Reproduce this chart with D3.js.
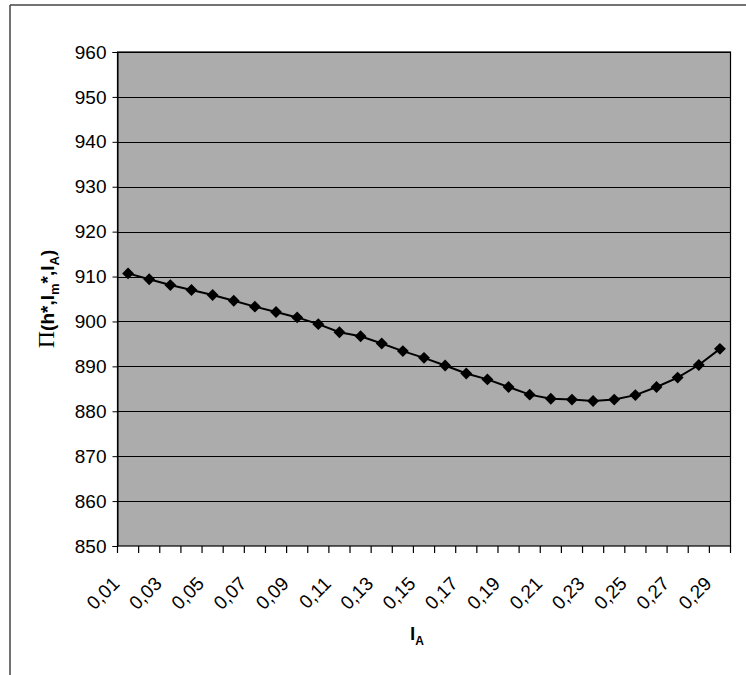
<!DOCTYPE html>
<html>
<head>
<meta charset="utf-8">
<script src="https://cdn.jsdelivr.net/npm/d3@7/dist/d3.min.js"></script>
<style>
  html, body { margin: 0; padding: 0; background: #fff; }
  svg { display: block; }
  text { font-family: "Liberation Sans", Arial, sans-serif; fill: #000; }
</style>
</head>
<body>
<svg id="chart" width="746" height="675"></svg>
<script>
// ---- data ----
const categories = ["0,01","0,02","0,03","0,04","0,05","0,06","0,07","0,08","0,09","0,10",
                    "0,11","0,12","0,13","0,14","0,15","0,16","0,17","0,18","0,19","0,20",
                    "0,21","0,22","0,23","0,24","0,25","0,26","0,27","0,28","0,29"];
const values = [910.7, 909.4, 908.1, 907.0, 905.9, 904.6, 903.3, 902.1, 900.9, 899.4,
                897.6, 896.7, 895.1, 893.4, 891.9, 890.2, 888.4, 887.1, 885.4, 883.7,
                882.8, 882.6, 882.3, 882.6, 883.6, 885.4, 887.5, 890.3, 893.9];
const yTicks = [850, 860, 870, 880, 890, 900, 910, 920, 930, 940, 950, 960];
const xTickLabels = ["0,01","0,03","0,05","0,07","0,09","0,11","0,13","0,15","0,17","0,19",
                     "0,21","0,23","0,25","0,27","0,29"];

// ---- layout ----
const svg = d3.select("#chart");
const plot = { left: 117.5, top: 52, right: 730.5, bottom: 546 };

const x = d3.scaleBand().domain(categories).range([plot.left, plot.right]).padding(0);
const y = d3.scaleLinear().domain([850, 960]).range([plot.bottom, plot.top]);

// outer frame (scanned page border)
svg.append("line").attr("x1", 10).attr("y1", 5).attr("x2", 746).attr("y2", 5)
  .attr("stroke", "#444").attr("stroke-width", 1.5);
svg.append("line").attr("x1", 10).attr("y1", 5).attr("x2", 10).attr("y2", 675)
  .attr("stroke", "#444").attr("stroke-width", 1.5);

// plot area
svg.append("rect")
  .attr("x", plot.left).attr("y", plot.top)
  .attr("width", plot.right - plot.left).attr("height", plot.bottom - plot.top)
  .attr("fill", "#acacac");

// gridlines
svg.append("g").selectAll("line").data(yTicks.slice(1)).join("line")
  .attr("x1", plot.left).attr("x2", plot.right)
  .attr("y1", d => Math.round(y(d)) + 0.5).attr("y2", d => Math.round(y(d)) + 0.5)
  .attr("stroke", "#000").attr("stroke-width", 1);

// plot border
svg.append("rect")
  .attr("x", plot.left).attr("y", plot.top)
  .attr("width", plot.right - plot.left).attr("height", plot.bottom - plot.top)
  .attr("fill", "none").attr("stroke", "#000").attr("stroke-width", 1.2);

// y axis
const yAxis = d3.axisLeft(y).tickValues(yTicks).tickSize(5).tickPadding(6)
  .tickFormat(d3.format("d"));
const gy = svg.append("g").attr("transform", `translate(${plot.left},0)`).call(yAxis);
gy.select(".domain").attr("stroke", "#000");
gy.selectAll(".tick line").attr("stroke", "#000");
gy.selectAll("text").attr("font-size", 19).attr("font-family", "Liberation Sans, Arial, sans-serif")
  .attr("fill", "#000");

// x axis (ticks at category boundaries)
const boundaries = categories.map(c => x(c)).concat([x(categories[categories.length - 1]) + x.bandwidth()]);
const gx = svg.append("g");
gx.selectAll("line").data(boundaries).join("line")
  .attr("x1", d => d).attr("x2", d => d)
  .attr("y1", plot.bottom).attr("y2", plot.bottom + 7)
  .attr("stroke", "#000").attr("stroke-width", 1.2);
gx.selectAll("text").data(xTickLabels).join("text")
  .attr("transform", d => `translate(${x(d) + x.bandwidth() / 2 - 12},${plot.bottom + 34}) rotate(-45)`)
  .attr("text-anchor", "end")
  .attr("dy", "0.35em")
  .attr("font-size", 19)
  .text(d => d);

// line + markers
const line = d3.line()
  .x((d, i) => x(categories[i]) + x.bandwidth() / 2)
  .y(d => y(d));
svg.append("path").datum(values)
  .attr("d", line).attr("fill", "none").attr("stroke", "#000").attr("stroke-width", 2);

const diamond = d3.symbol().type(d3.symbolDiamond2).size(90);
svg.append("g").selectAll("path").data(values).join("path")
  .attr("transform", (d, i) => `translate(${x(categories[i]) + x.bandwidth() / 2},${y(d)})`)
  .attr("d", diamond).attr("fill", "#000");

// y axis title
const yt = svg.append("text")
  .attr("transform", `translate(54,${(plot.top + plot.bottom) / 2}) rotate(-90)`)
  .attr("text-anchor", "middle")
  .attr("font-size", 19).attr("font-weight", "bold");
yt.append("tspan").attr("font-family", "Liberation Serif, serif").attr("font-weight", "normal").attr("font-size", 24).text("Π");
yt.append("tspan").text("(h*,l");
yt.append("tspan").attr("font-size", 13).attr("dy", 5).text("m");
yt.append("tspan").attr("dy", -5).text("*,l");
yt.append("tspan").attr("font-size", 13).attr("dy", 5).text("A");
yt.append("tspan").attr("dy", -5).text(")");

// x axis title
const xt = svg.append("text")
  .attr("x", 417).attr("y", 640)
  .attr("text-anchor", "middle")
  .attr("font-size", 19).attr("font-weight", "bold");
xt.append("tspan").text("l");
xt.append("tspan").attr("font-size", 12).attr("dy", 5).text("A");
</script>
</body>
</html>
